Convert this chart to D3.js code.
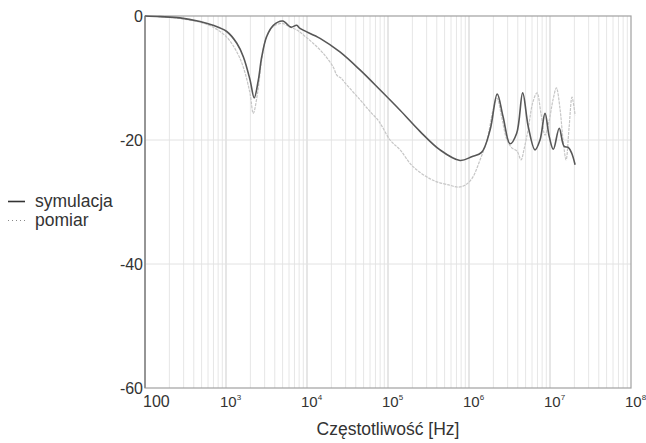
<!DOCTYPE html>
<html>
<head>
<meta charset="utf-8">
<script src="https://cdn.jsdelivr.net/npm/d3@7"></script>
<style>
    body { margin: 0; background: #fff; }
    svg { display: block; font-family: "Liberation Sans", Arial, sans-serif; }
</style>
</head>
<body>
<div id="app"></div>
<script>
"use strict";

// symulacja: frequency [Hz] and level [dB]
const simFreq = [100, 153, 270, 477, 692, 1020, 1360, 1640, 1980, 2230, 2510, 2760, 3180, 3840, 5010, 6340, 7460,
    8200, 14500, 25500, 45100, 79600, 141000, 248000, 439000, 775000, 1080000, 1430000, 1820000, 2230000,
    2630000, 3210000, 3880000, 4600000, 5400000, 6530000, 7530000, 8680000, 9800000, 11000000, 13000000, 14900000,
    16800000, 18500000, 20400000];
const simDb = [0, -0.1, -0.3, -0.9, -1.5, -2.5, -4.4, -6.6, -10.3, -13.2, -10.3, -6.6, -3.3, -1.5, -0.8, -1.8, -1.5,
    -2, -3.6, -5.8, -8.7, -11.9, -15.2, -18.6, -21.6, -23.3, -22.7, -22, -18.4, -12.6,
    -16.2, -20.6, -18.9, -12.4, -17.9, -21.6, -20, -15.7, -19.5, -21.5, -18.1, -21,
    -21.2, -22.1, -24];

// pomiar: frequency [Hz] and level [dB]
const measFreq = [100, 153, 270, 477, 692, 1020, 1360, 1640, 1980, 2170, 2450, 2730, 3120, 3760, 4900, 6200, 7600,
    9300, 11900, 15800, 21000, 23500, 26300, 29500, 45100, 60000, 75300, 84400, 106000, 141000, 204000, 360000,
    582000, 731000, 893000, 1090000, 1370000, 1670000, 1980000, 2220000, 2550000, 2940000, 3400000, 3920000,
    4390000, 4780000, 5350000, 6170000, 6920000, 7750000, 8680000, 9720000, 10900000, 12000000, 13300000,
    14500000, 15800000, 17200000, 18700000, 20400000];
const measDb = [0, -0.1, -0.4, -1.0, -1.8, -3.4, -5.8, -8.3, -12.5, -15.7, -12.5, -7.5, -3.5, -1.8, -1.2, -1.8, -2.3,
    -3.2, -4.4, -6, -8.2, -9.6, -10, -10.8, -13.5, -15.4, -16.8, -17.8, -20, -21.6, -24.3, -26.5,
    -27.3, -27.6, -27.3, -26.2, -23.2, -20, -15.2, -13.3, -16.5, -20, -21.3, -21.8,
    -23.2, -21.5, -18.4, -13.8, -12.4, -15.8, -19.2, -17, -13.5, -11.6, -15,
    -20, -23.2, -18, -13.1, -16];

const yTicks = [0, -20, -40, -60];
const xTickExp = [2, 3, 4, 5, 6, 7, 8];
const legendNames = ["symulacja", "pomiar"];
const axisTitle = "Częstotliwość [Hz]";

const W = 646, H = 443;
const margin = { left: 145, top: 16, right: 15, bottom: 55 };
const innerW = W - margin.left - margin.right;
const innerH = H - margin.top - margin.bottom;

const svg = d3.select("#app").append("svg")
    .attr("width", W)
    .attr("height", H);

const x = d3.scaleLog().domain([1e2, 1e8]).range([0, innerW]);
const y = d3.scaleLinear().domain([-60, 0]).range([innerH, 0]);

const g = svg.append("g").attr("transform", `translate(${margin.left},${margin.top})`);

// vertical grid: 1..9 in every decade
const minor = [];
xTickExp.slice(0, -1).forEach(e => {
    for (let k = 2; k <= 9; k++) minor.push(k * Math.pow(10, e));
});
g.selectAll(".minor").data(minor).join("line")
    .attr("x1", d => x(d)).attr("x2", d => x(d))
    .attr("y1", 0).attr("y2", innerH)
    .attr("stroke", "#e6e6e6").attr("stroke-width", 1);

g.selectAll(".major").data(xTickExp.slice(1, -1)).join("line")
    .attr("x1", e => x(Math.pow(10, e))).attr("x2", e => x(Math.pow(10, e)))
    .attr("y1", 0).attr("y2", innerH)
    .attr("stroke", "#cdcdcd").attr("stroke-width", 1);

g.selectAll(".hgrid").data(yTicks.slice(1, -1)).join("line")
    .attr("x1", 0).attr("x2", innerW)
    .attr("y1", d => y(d)).attr("y2", d => y(d))
    .attr("stroke", "#e2e2e2").attr("stroke-width", 1);

// frame
g.append("rect")
    .attr("width", innerW).attr("height", innerH)
    .attr("fill", "none").attr("stroke", "#a0a0a0").attr("stroke-width", 1.2);
g.append("line")
    .attr("x1", 0).attr("x2", 0).attr("y1", 0).attr("y2", innerH)
    .attr("stroke", "#8a8a8a").attr("stroke-width", 1.6);

const line = d3.line()
    .x(d => x(d[0]))
    .y(d => y(d[1]))
    .curve(d3.curveCatmullRom.alpha(0.5));

g.append("path")
    .datum(d3.zip(measFreq, measDb))
    .attr("d", line)
    .attr("fill", "none")
    .attr("stroke", "#c6c6c6")
    .attr("stroke-width", 1.2)
    .attr("stroke-dasharray", "3 1");

g.append("path")
    .datum(d3.zip(simFreq, simDb))
    .attr("d", line)
    .attr("fill", "none")
    .attr("stroke", "#575757")
    .attr("stroke-width", 1.6);

// y tick labels
g.selectAll(".ylab").data(yTicks).join("text")
    .attr("x", -2)
    .attr("y", d => y(d))
    .attr("dy", "0.4em")
    .attr("text-anchor", "end")
    .attr("font-size", 16)
    .attr("fill", "#333")
    .text(d => d);

// x tick labels: 100, then 10^n
const xl = g.selectAll(".xlab").data(xTickExp).join("text")
    .attr("x", e => x(Math.pow(10, e)) + (e === 2 ? -2 : -6))
    .attr("y", innerH + 19)
    .attr("fill", "#333");
xl.filter(e => e === 2).attr("font-size", 16).text("100");
xl.filter(e => e !== 2).each(function (e) {
    const t = d3.select(this);
    t.append("tspan").attr("font-size", 15).text("10");
    t.append("tspan").attr("font-size", 8).attr("dy", -7).text(e);
});

// axis title
g.append("text")
    .attr("x", innerW / 2)
    .attr("y", innerH + 47)
    .attr("text-anchor", "middle")
    .attr("font-size", 17.5)
    .attr("fill", "#333")
    .text(axisTitle);

// legend
const legend = svg.append("g").attr("transform", "translate(8,0)");
legend.selectAll(".lline").data(legendNames).join("line")
    .attr("x1", 0).attr("x2", 17)
    .attr("y1", (d, i) => 201.5 + i * 19).attr("y2", (d, i) => 201.5 + i * 19)
    .attr("stroke", (d, i) => i === 0 ? "#333" : "#888")
    .attr("stroke-width", (d, i) => i === 0 ? 1.6 : 1)
    .attr("stroke-dasharray", (d, i) => i === 0 ? null : "1 3");
legend.selectAll(".ltext").data(legendNames).join("text")
    .attr("x", 27)
    .attr("y", (d, i) => 207 + i * 18.5)
    .attr("font-size", 17.5)
    .attr("fill", "#333")
    .text(d => d);
</script>
</body>
</html>
